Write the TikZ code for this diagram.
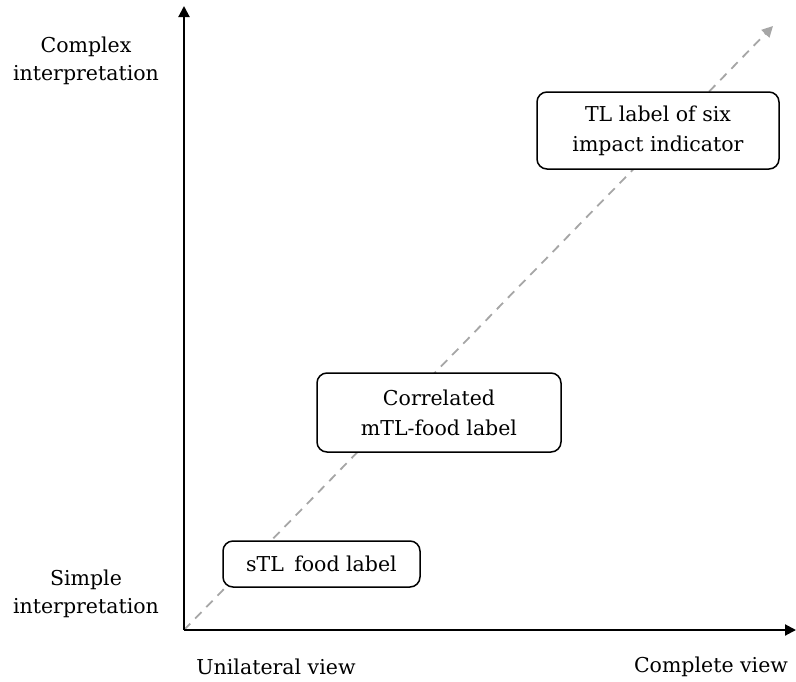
\documentclass[tikz,border=0pt]{standalone}
\usepackage{fontspec}
\setmainfont{DejaVu Serif}
\usetikzlibrary{arrows.meta}
\begin{document}
\begin{tikzpicture}[x=1pt,y=-1pt,
  lbl/.style={font=\fontsize{20.5}{28}\selectfont, align=center, inner sep=0pt},
  box/.style={draw, line width=1.5pt, rounded corners=10pt, font=\fontsize{20.5}{30}\selectfont, align=center},
  axis/.style={line width=2pt, -{Triangle[length=11pt,width=11pt]}},
  diag/.style={gray!70, line width=1.8pt, dash pattern=on 9pt off 7pt, -{Triangle[length=11pt,width=11pt]}}]
\useasboundingbox (0,0) rectangle (796,681);
\coordinate (O) at (184,630);
\coordinate (Ytop) at (184,6);
\coordinate (Xend) at (796,630);
\coordinate (Dend) at (773,26);
\draw[diag] (O) -- (Dend);
\draw[axis] (O) -- (Ytop);
\draw[axis] (O) -- (Xend);
\node[box, fill=white, minimum width=242pt, minimum height=77pt] (tl) at (658,130.5) {TL label of six\\impact indicator};
\node[box, fill=white, minimum width=244pt, minimum height=79pt] (corr) at (439,412.5) {Correlated\\mTL-food label};
\node[box, fill=white, minimum width=197pt, minimum height=46pt] (stl) at (321.5,564) {sTL\enspace food label};
\node[lbl] (cx) at (86,61) {Complex\\interpretation};
\node[lbl] (sp) at (86,594) {Simple\\interpretation};
\node[lbl] (uv) at (276,667) {Unilateral view};
\node[lbl] (cv) at (711,667) {Complete view};
\end{tikzpicture}
\end{document}
